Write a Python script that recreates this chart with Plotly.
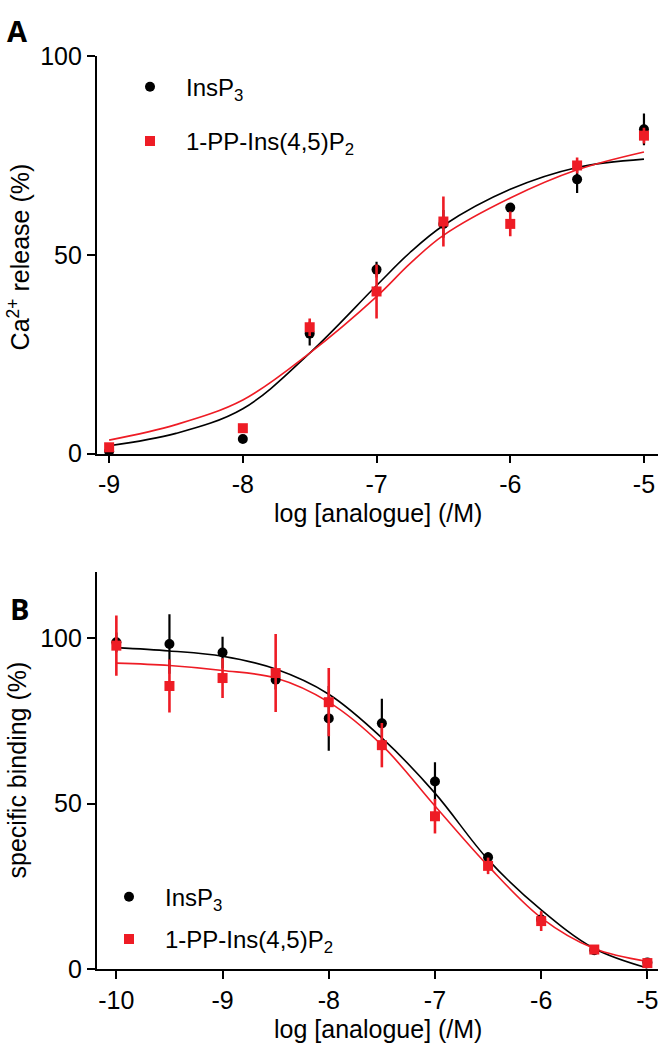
import plotly.graph_objects as go

W, H = 661, 1058

# ---------------- data ----------------
# Panel A: Ca2+ release
x_a = [-9, -8, -7.5, -7, -6.5, -6, -5.5, -5]
ins_a = [0.6, 3.7, 30.2, 46.3, 57.8, 61.9, 69.0, 81.6]
ins_a_err = [0.5, 0.8, 3.0, 2.0, 3.5, 1.0, 3.4, 4.0]
pp_a = [1.6, 6.4, 31.8, 40.8, 58.4, 57.8, 72.5, 80.0]
pp_a_err = [0.5, 0.5, 2.2, 6.8, 6.3, 3.1, 2.0, 2.0]

# fitted curves A
fit_x_a = [-9, -8.5, -8, -7.5, -7, -6.75, -6.5, -6, -5.5, -5]
fit_ins_a = [2.0, 5.1, 11.3, 25.3, 42.3, 50.6, 57.4, 66.5, 72.0, 74.1]
fit_pp_a = [3.4, 7.3, 13.5, 25.3, 39.5, 47.8, 54.9, 64.3, 71.4, 75.9]

# Panel B: specific binding
x_b = [-10, -9.5, -9, -8.5, -8, -7.5, -7, -6.5, -6, -5.5, -5]
ins_b = [98.8, 98.3, 95.7, 87.5, 75.8, 74.3, 56.7, 33.8, 15.0, 5.7, 2.0]
ins_b_err = [3.0, 9.0, 4.8, 3.0, 9.8, 7.4, 5.8, 1.5, 2.0, 1.0, 1.0]
pp_b = [97.8, 85.6, 88.0, 89.5, 80.7, 67.7, 46.2, 31.2, 14.5, 5.9, 1.8]
pp_b_err = [9.1, 8.0, 6.0, 11.8, 10.3, 6.7, 5.2, 2.5, 3.0, 1.0, 1.0]

fit_x_b = [-10, -9.5, -9, -8.5, -8, -7.5, -7, -6.5, -6, -5.5, -5]
fit_ins_b = [97.2, 96.2, 94.6, 90.7, 83.1, 69.9, 53.2, 33.1, 17.9, 6.2, 0.3]
fit_pp_b = [92.5, 91.8, 90.3, 88.0, 80.7, 67.7, 49.3, 31.2, 15.5, 6.2, 2.3]

ticks_a = [-9, -8, -7, -6, -5]
ticks_b = [-10, -9, -8, -7, -6, -5]

name_ins = "InsP<sub>3</sub>"
name_pp = "1-PP-Ins(4,5)P<sub>2</sub>"

BLACK = "#000000"
RED = "#ee1c25"
FONT = "Liberation Sans, Arial, sans-serif"

fig = go.Figure()

def add_panel(xax, yax, fx, fi, fp, x, yi, ei, yp, ep, legend):
    fig.add_trace(go.Scatter(x=fx, y=fi, mode="lines", line=dict(color=BLACK, width=1.6, shape="spline"),
                             xaxis=xax, yaxis=yax, showlegend=False, hoverinfo="skip"))
    fig.add_trace(go.Scatter(x=fx, y=fp, mode="lines", line=dict(color=RED, width=1.6, shape="spline"),
                             xaxis=xax, yaxis=yax, showlegend=False, hoverinfo="skip"))
    fig.add_trace(go.Scatter(x=x, y=yi, mode="markers", name=name_ins,
                             marker=dict(symbol="circle", size=10, color=BLACK),
                             error_y=dict(type="data", array=ei, visible=True, color=BLACK, thickness=2.2, width=0),
                             xaxis=xax, yaxis=yax, legend=legend, legendgroup=legend + "a", cliponaxis=False))
    fig.add_trace(go.Scatter(x=x, y=yp, mode="markers", name=name_pp,
                             marker=dict(symbol="square", size=10, color=RED),
                             error_y=dict(type="data", array=ep, visible=True, color=RED, thickness=2.6, width=0),
                             xaxis=xax, yaxis=yax, legend=legend, legendgroup=legend + "b", cliponaxis=False))

add_panel("x", "y", fit_x_a, fit_ins_a, fit_pp_a, x_a, ins_a, ins_a_err, pp_a, pp_a_err, "legend")
add_panel("x2", "y2", fit_x_b, fit_ins_b, fit_pp_b, x_b, ins_b, ins_b_err, pp_b, pp_b_err, "legend2")

axis_common = dict(showline=True, linecolor=BLACK, linewidth=1.6, ticks="outside", ticklen=8,
                   tickwidth=1.6, tickcolor=BLACK, showgrid=False, zeroline=False,
                   tickfont=dict(family=FONT, size=25, color=BLACK))

xdom = [96.7 / W, 658 / W]
fig.update_layout(
    width=W, height=H, margin=dict(l=0, r=0, t=0, b=0),
    paper_bgcolor="white", plot_bgcolor="white",
    font=dict(family=FONT, color=BLACK),
    xaxis=dict(domain=xdom, range=[-9.093, -4.895], tickvals=ticks_a,
               ticktext=[str(t) for t in ticks_a], anchor="y", **axis_common),
    yaxis=dict(domain=[1 - 451.6 / H, 1 - 43.3 / H], range=[0, 100], tickvals=[0, 50, 100],
               anchor="x", **axis_common),
    xaxis2=dict(domain=xdom, range=[-10.185, -4.9], tickvals=ticks_b,
                ticktext=[str(t) for t in ticks_b], anchor="y2", **axis_common),
    yaxis2=dict(domain=[1 - 981 / H, 1 - 573.4 / H], range=[0, 120], tickvals=[0, 50, 100],
                anchor="x2", **axis_common),
    legend=dict(x=114 / W, xanchor="left", y=1 - 52 / H, yanchor="top", bgcolor="rgba(0,0,0,0)",
                font=dict(family=FONT, size=24, color=BLACK), tracegroupgap=20, itemwidth=62),
    legend2=dict(x=93 / W, xanchor="left", y=1 - 884 / H, yanchor="top", bgcolor="rgba(0,0,0,0)",
                 font=dict(family=FONT, size=24, color=BLACK), tracegroupgap=8, itemwidth=62),
)

ann = []
ann.append(dict(text="<b>A</b>", x=17.5 / W, y=1 - 17 / H, xref="paper", yref="paper", xanchor="center", yanchor="middle",
                showarrow=False, font=dict(family="Open Sans, sans-serif", size=29, color=BLACK)))
ann.append(dict(text="<b>B</b>", x=19 / W, y=1 - 611 / H, xref="paper", yref="paper", xanchor="center", yanchor="middle",
                showarrow=False, font=dict(family="Open Sans, sans-serif", size=29, color=BLACK)))
ann.append(dict(text="log [analogue] (/M)", x=378 / W, y=1 - 513 / H, xref="paper", yref="paper",
                xanchor="center", yanchor="middle", showarrow=False, font=dict(family=FONT, size=25, color=BLACK)))
ann.append(dict(text="log [analogue] (/M)", x=378 / W, y=1 - 1043 / H, xref="paper", yref="paper",
                xanchor="center", yanchor="middle", showarrow=False, font=dict(family=FONT, size=25, color=BLACK)))
ann.append(dict(text="Ca<sup>2+</sup> release (%)", x=19 / W, y=1 - 250 / H, xref="paper", yref="paper",
                xanchor="center", yanchor="middle", textangle=-90, showarrow=False,
                font=dict(family=FONT, size=25, color=BLACK)))
ann.append(dict(text="specific binding (%)", x=17 / W, y=1 - 777 / H, xref="paper", yref="paper",
                xanchor="center", yanchor="middle", textangle=-90, showarrow=False,
                font=dict(family=FONT, size=25, color=BLACK)))
fig.update_layout(annotations=ann)

fig.write_html("out.html", config={"displayModeBar": False},
               post_script="document.body.style.margin='0';document.body.style.overflow='hidden';")
